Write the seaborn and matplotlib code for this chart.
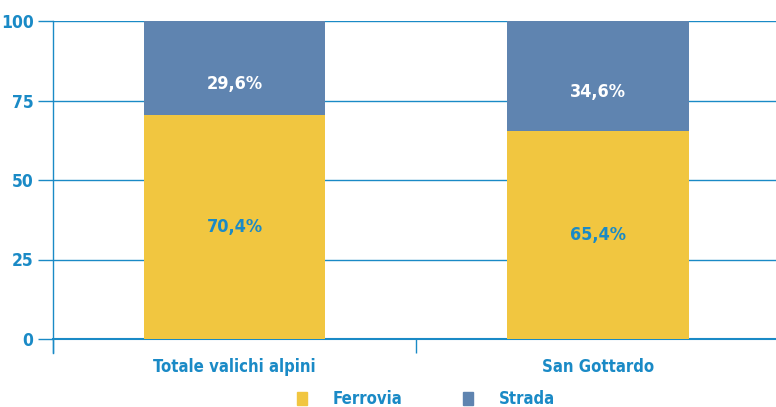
import numpy as np
import pandas as pd
import matplotlib.pyplot as plt
import seaborn as sns
from matplotlib.patches import Patch

categories = ['Totale valichi alpini', 'San Gottardo']
ferrovia = [70.4, 65.4]
strada = [29.6, 34.6]
series_names = ['Ferrovia', 'Strada']

BLUE = '#1a8ac6'
YELLOW = '#f1c640'
STEEL = '#5f84b0'

sns.set_theme(style='white')
plt.rcParams['font.family'] = ['DejaVu Sans']
plt.rcParams['font.stretch'] = 'condensed'
plt.rcParams['font.weight'] = 'bold'

df = pd.DataFrame({'categoria': categories, 'Ferrovia': ferrovia, 'Strada': strada})
df['totale'] = df['Ferrovia'] + df['Strada']

fig = plt.figure(figsize=(7.76, 4.07), dpi=100)
ax = fig.add_axes([53 / 776, 68 / 407, 1 - 53 / 776, 318 / 407])

sns.barplot(data=df, x='categoria', y='totale', color=STEEL, width=0.5,
            saturation=1, linewidth=0, ax=ax, zorder=3)
sns.barplot(data=df, x='categoria', y='Ferrovia', color=YELLOW, width=0.5,
            saturation=1, linewidth=0, ax=ax, zorder=3)

for i, (f, s) in enumerate(zip(ferrovia, strada)):
    ax.text(i, f / 2, f'{f:.1f}%'.replace('.', ','), ha='center', va='center',
            color=BLUE, fontsize=13, fontweight='bold', zorder=4)
    ax.text(i, f + s / 2 - 5, f'{s:.1f}%'.replace('.', ','), ha='center', va='center',
            color='white', fontsize=13, fontweight='bold', zorder=4)

ax.set_xlim(-0.5, 1.49)
ax.set_ylim(0, 100)
ax.set_yticks([0, 25, 50, 75, 100])
ax.yaxis.grid(True, color=BLUE, linewidth=1)
ax.set_xlabel('')
ax.set_ylabel('')

for side in ['top', 'right']:
    ax.spines[side].set_visible(False)
ax.spines['left'].set_color(BLUE)
ax.spines['bottom'].set_color(BLUE)
ax.spines['bottom'].set_linewidth(1.5)
ax.spines['left'].set_bounds(-4.5, 100)
ax.spines['left'].set_linewidth(1)

ax.tick_params(axis='y', colors=BLUE, labelsize=12.5, length=11, width=1, direction='out', left=True, pad=3)
ax.tick_params(axis='x', colors=BLUE, labelsize=12, length=0, pad=14)
ax.set_xticks([-0.5, 0.5], minor=True)
ax.tick_params(axis='x', which='minor', length=10, width=1, color=BLUE, bottom=True)
for lab in ax.get_xticklabels() + ax.get_yticklabels():
    lab.set_fontweight('bold')
    lab.set_color(BLUE)

handles = [Patch(color=YELLOW), Patch(color=STEEL)]
leg = fig.legend(handles, series_names, loc='lower center', bbox_to_anchor=(0.549, -0.04),
                 ncol=2, frameon=False, handlelength=0.6, handleheight=0.75,
                 columnspacing=3.65, handletextpad=1.55,
                 prop={'size': 12, 'weight': 'bold'})
for t in leg.get_texts():
    t.set_color(BLUE)

fig.savefig('out.png', dpi=100)
plt.close(fig)
